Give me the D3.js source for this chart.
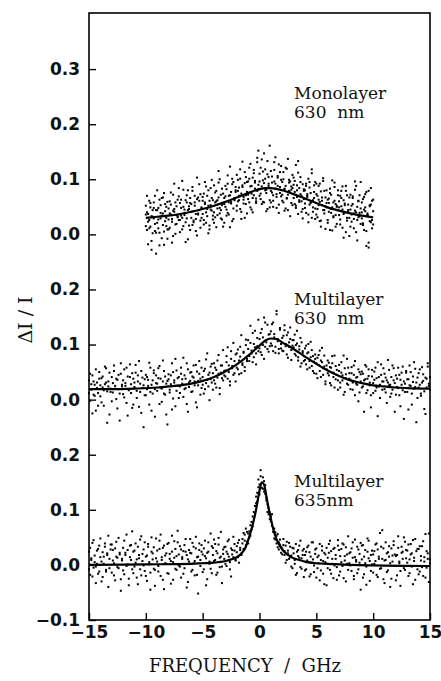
<!DOCTYPE html>
<html>
<head>
<meta charset="utf-8">
<script src="https://cdn.jsdelivr.net/npm/d3@7"></script>
<style>
  body { margin: 0; background: #fff; }
  svg { display: block; }
</style>
</head>
<body>
<svg id="chart" width="441" height="681"></svg>
<script>
// frequency axis, GHz
const xTicks = [-15, -10, -5, 0, 5, 10, 15]

// the three spectra are stacked on one axis, each shifted by an offset
const panelNames = ["Monolayer", "Multilayer", "Multilayer"]
const panelWaves = ["630  nm", "630  nm", "635nm"]
const panelOffsets = [0.6, 0.3, 0]
const yTickPos = [0.9, 0.8, 0.7, 0.6, 0.5, 0.4, 0.3, 0.2, 0.1, 0.0, -0.1]
const yTickLabels = ["0.3", "0.2", "0.1", "0.0", "0.2", "0.1", "0.0", "0.2", "0.1", "0.0", "\u22120.1"]

// measured points, ΔI/I in units of 0.001, evenly spaced over the given range
const monoRange = [-10, 10]
const monoScanA = [52,8,37,61,14,-12,44,29,70,3, 21,48,-20,39,66,17,5,55,30,-8, 47,12,76,28,-3,41,58,19,33,84, 26,63,9,50,35,-14,71,44,16,57,
  30,79,22,52,6,64,38,91,25,47, 68,18,55,87,33,2,61,45,99,27, 40,76,13,62,94,48,29,83,57,21, 88,45,107,36,71,59,24,95,66,80,
  52,99,70,118,41,86,63,30,104,77, 96,58,128,74,40,111,83,65,139,90, 70,121,55,98,147,80,42,109,88,62, 115,76,50,131,92,68,103,39,86,124,
  61,100,83,47,119,72,94,33,81,108, 90,55,126,68,37,84,104,60,29,79, 48,92,70,22,85,57,111,41,66,95, 73,31,88,59,14,67,102,44,51,80,
  26,65,83,39,7,58,94,35,50,71, 60,18,79,45,-6,53,88,30,41,67, 14,52,69,28,96,40,-11,61,33,47, 58,20,45,73,6,38,-24,51,84,26, 42]
const monoScanB = [15,40,-18,26,57,33,2,48,19,-35, 44,11,63,29,-7,38,75,24,50,9, 27,60,36,-15,43,92,18,51,31,69, 4,48,30,81,39,22,58,-9,46,66,
  55,17,42,70,28,103,36,61,12,49, 37,74,58,21,46,80,9,53,66,34, 89,31,60,47,115,38,72,53,14,66, 50,82,39,70,123,56,91,28,64,77,
  108,60,85,46,74,132,68,93,55,38, 72,101,49,88,66,117,94,57,79,152, 96,64,87,114,58,101,75,133,92,49, 79,105,61,96,140,73,88,54,113,69,
  95,58,82,121,66,44,99,76,87,53, 66,97,48,80,112,59,73,41,91,64, 80,39,68,101,54,75,30,62,89,47, 36,70,53,92,25,61,44,79,10,57,
  63,41,8,72,49,31,86,55,19,44, 35,70,51,12,62,40,79,25,54,-3, 45,23,66,38,81,4,50,31,71,19, 29,64,8,42,77,35,-15,53,22,61, 18]
const monoScanC = [36,70,23,11,49,-28,32,58,6,44, 80,27,3,53,34,67,-19,42,15,59, 9,38,54,23,72,46,1,35,63,26, 57,34,97,15,45,62,29,80,51,8,
  41,86,25,58,37,-2,67,44,73,30, 61,26,95,40,70,52,16,84,43,62, 21,58,79,35,67,100,44,27,74,55, 69,34,92,58,13,77,101,47,62,86,
  43,79,62,101,28,89,56,113,71,95, 64,121,87,45,103,71,97,60,131,82, 110,74,136,59,93,118,81,46,104,161, 58,94,71,117,83,48,106,127,75,99,
  72,113,43,88,65,137,79,96,57,84, 103,77,52,89,133,62,95,70,46,82, 56,88,73,36,95,60,118,49,77,28, 92,46,63,24,78,53,97,38,67,49,
  21,57,75,46,98,33,61,14,52,80, 49,27,66,87,37,56,4,71,44,30, 72,36,55,11,43,88,26,60,39,95, 40,17,68,49,-21,35,79,24,54,11, 63]

const multi630Range = [-15, 15]
const multi630ScanA = [35,-2,18,44,9,27,-20,31,12,50, 6,39,22,-11,28,57,15,33,-27,20, 41,13,62,25,1,36,19,-38,47,24, 10,55,30,-6,42,17,64,28,-15,38,
  23,49,3,33,70,14,-24,40,26,8, 45,19,36,-9,58,27,11,48,-31,30, 16,39,61,22,-4,33,52,9,29,-45, 37,18,44,66,2,31,-12,53,25,41,
  12,47,29,76,19,38,-8,55,23,34, 50,15,40,26,63,-14,34,47,9,58, 27,52,19,73,36,45,-1,60,31,48, 66,29,54,40,81,21,49,62,35,44,
  53,79,38,62,26,88,57,45,70,33, 84,55,71,96,48,66,87,59,109,74, 92,70,103,84,121,77,95,64,112,88, 110,86,128,99,74,140,104,92,118,97,
  124,98,140,113,85,155,106,92,130,101, 112,88,126,97,117,76,104,131,90,108, 95,118,80,102,71,97,112,66,88,79, 93,64,84,101,58,77,90,52,69,82,
  47,76,63,89,41,68,57,80,33,62, 71,44,59,26,66,49,80,37,54,18, 52,31,68,44,9,57,39,74,27,48, 36,59,18,45,70,29,41,-3,50,33,
  22,47,35,63,12,38,55,26,-14,42, 30,51,16,39,68,24,3,45,33,57, 19,40,-6,31,54,27,11,62,35,-22, 44,23,58,8,36,49,17,-35,29,52,
  14,37,62,25,-9,42,20,56,31,3, 48,27,11,59,34,-17,40,22,66,29, 18]
const multi630ScanB = [12,47,28,-25,33,7,55,21,-11,38, 26,-5,42,17,60,31,-42,24,49,14, -3,30,52,20,38,-16,45,11,66,27, 35,4,25,58,-29,19,41,12,48,-9,
  31,63,16,44,-13,29,52,21,-50,37, 8,41,25,67,14,-20,35,53,19,44, 29,57,-8,38,20,71,11,42,-27,34, 46,13,28,-18,50,35,74,16,39,3,
  24,58,37,5,44,21,66,-22,31,49, 14,42,62,33,-5,51,26,70,38,21, 41,11,56,30,84,24,49,37,65,18, 35,58,22,71,47,10,62,39,90,52,
  42,68,95,50,33,74,61,103,48,82, 58,91,46,78,117,63,85,52,99,70, 108,79,134,89,68,101,125,84,97,145, 93,121,81,113,149,96,108,136,87,119,
  102,137,88,119,96,161,110,84,127,93, 89,116,135,101,82,122,96,110,72,98, 108,83,99,125,77,91,60,104,85,70, 72,98,55,86,70,105,61,79,48,74,
  66,39,81,52,71,94,45,60,28,55, 48,67,30,58,79,41,22,61,45,35, 63,22,49,35,80,14,46,29,58,38, 19,48,31,62,8,40,27,55,13,46,
  51,24,-22,37,60,17,43,31,8,54, 12,36,58,22,-30,41,27,64,18,33, 47,13,35,72,26,5,41,18,57,30, 9,38,21,45,-12,27,60,33,14,49,
  37,-18,26,50,11,32,68,23,-41,40, 22,55,7,31,46,15,-26,38,60,25, 41]

const multi635Range = [-15, 15]
const multi635ScanA = [24,-18,9,40,-5,17,-33,2,29,-12, 48,6,-22,15,33,-9,21,-40,11,37, -14,27,3,-28,42,13,-6,19,-47,8, 31,-17,22,55,1,-25,14,36,-8,24,
  -3,39,10,-35,18,46,-19,7,28,-11, 15,-29,33,5,-14,50,21,-7,-38,12, 26,-2,44,-20,9,31,-44,17,2,38, -16,20,7,53,-27,13,29,-9,41,-1,
  34,-23,11,25,-6,47,18,-31,6,22, -12,40,3,-19,30,14,-52,27,9,36, 19,-8,44,12,-26,24,2,57,-15,31, 7,38,-18,21,49,-4,15,-33,28,11,
  33,-2,20,46,5,-21,27,14,38,9, 23,40,4,31,18,47,29,55,36,42, 57,49,72,64,88,85,107,124,115,141, 128,161,149,138,152,129,117,96,104,83,
  88,71,60,66,46,53,32,41,37,22, 30,47,18,35,9,26,40,14,-3,31, 21,2,38,-15,27,13,44,-7,18,29, -10,24,8,35,-21,15,4,41,-13,20,
  30,-6,17,-28,9,34,-16,22,5,-37, 13,38,-9,25,2,-24,31,11,-4,45, -19,16,29,-2,37,8,-30,19,52,3, 23,-11,41,-26,14,6,33,-8,20,-45,
  10,36,-17,27,-3,48,12,-29,18,1, -14,25,7,39,-22,15,58,-6,11,30, -33,9,21,-10,34,3,-25,17,43,-2, 16,-19,31,6,-38,22,11,50,-9,27,
  4,37,-15,19,-3,45,13,-27,25,-8, 29,-12,8,34,-20,14,56,-5,21,-31, 10]
const multi635ScanB = [-8,31,12,-21,45,5,-3,26,-16,35, 14,-30,23,2,39,-12,18,53,-6,28, 37,8,-19,30,15,-4,49,22,-26,11, -10,44,18,-2,27,-37,35,9,61,-15,
  26,4,-23,33,12,-8,52,20,-1,41, -20,17,38,1,-45,24,10,32,-9,48, 6,-12,29,55,14,-27,35,3,21,-15, 40,11,-34,24,5,43,-7,16,62,19,
  -3,28,14,-16,36,24,-41,10,27,47, 21,-9,33,7,51,-18,15,39,-2,24, -13,30,16,-37,22,41,6,-7,34,18, 46,9,25,-14,37,13,60,-3,20,32,
  2,24,43,15,-8,30,19,51,26,8, 34,14,45,27,20,39,58,44,66,60, 39,61,53,78,70,96,92,112,131,155, 146,172,140,159,133,145,122,110,92,95,
  79,92,67,48,59,39,56,28,46,33, 19,36,25,4,42,21,11,33,17,-6, 30,9,-18,24,16,35,-4,12,26,-22, 18,-8,32,5,23,-17,41,10,-1,28,
  -23,14,3,38,-10,26,7,-35,19,31, -6,22,44,-16,11,29,-1,18,-27,35, 27,-12,5,39,-24,16,32,2,-9,21, -1,30,13,-20,46,9,-15,28,4,40,
  35,-23,15,3,-36,24,44,7,-11,26, 19,2,37,-18,28,11,-7,33,63,-26, 8,41,-13,23,15,-40,30,6,36,19, -28,18,52,3,-11,33,24,-6,42,12,
  26,-20,10,38,21,-35,7,47,-2,29, -17,34,16,-4,43,6,-23,25,11,57, 3]

const monoFitFreq = [-10, -9, -8, -7, -6, -5, -4, -3, -2, -1, 0, 0.5, 1, 2, 3, 4, 5, 6, 7, 8, 9, 10]
const monoFitVal = [30, 32, 34, 37, 41, 46, 52, 59, 67, 75, 82, 84, 84, 80, 73, 65, 57, 49, 43, 38, 34, 31]
const multi630FitFreq = [-15, -13, -11, -9, -8, -7, -6, -5, -4, -3, -2, -1, 0, 0.5, 1, 1.5, 2, 3, 4, 5, 6, 7, 8, 9, 10, 11, 12, 13, 15]
const multi630FitVal = [19, 19, 20, 22, 24, 26, 29, 34, 41, 51, 64, 80, 98, 107, 111, 110, 104, 92, 78, 65, 53, 43, 35, 30, 26, 24, 22, 21, 20]
const multi635FitFreq = [-15, -10, -6, -5, -4, -3, -2.5, -2, -1.5, -1.2, -1, -0.8, -0.6, -0.4, -0.2, 0, 0.2, 0.4, 0.6, 0.8, 1, 1.2, 1.4, 1.6, 1.8, 2, 2.5, 3, 3.5, 4, 5, 6, 8, 10, 15]
const multi635FitVal = [0, 1, 2, 3, 4, 7, 10, 14, 23, 33, 45, 58, 73, 90, 112, 135, 150, 146, 125, 103, 84, 66, 52, 42, 34, 28, 18, 12, 9, 6, 3, 2, 0, -1, -2]

const panels = [
  {range: monoRange, scans: [monoScanA, monoScanB, monoScanC], fitF: monoFitFreq, fitV: monoFitVal},
  {range: multi630Range, scans: [multi630ScanA, multi630ScanB], fitF: multi630FitFreq, fitV: multi630FitVal},
  {range: multi635Range, scans: [multi635ScanA, multi635ScanB], fitF: multi635FitFreq, fitV: multi635FitVal}
]
const labelY = [[99, 118], [305, 324], [487, 506]]

const plotLeft = 89, plotRight = 430, plotTop = 13, plotBottom = 620
const svg = d3.select("#chart")

const x = d3.scaleLinear().domain([-15, 15]).range([plotLeft, plotRight])
const y = d3.scaleLinear().domain([-0.1, 1.0]).range([plotBottom, 14])

panels.forEach(function(p, k) {
  const off = panelOffsets[k]
  const g = svg.append("g")
  p.scans.forEach(function(scan) {
    const step = (p.range[1] - p.range[0]) / (scan.length - 1)
    g.selectAll(null)
      .data(scan)
      .enter()
      .append("rect")
        .attr("x", function(d, i) { return x(p.range[0] + i * step) - 1 })
        .attr("y", function(d) { return y(off + d / 1000) - 1 })
        .attr("width", 2)
        .attr("height", 2)
        .attr("fill", "#000")
  })
  const line = d3.line()
    .x(function(d) { return x(d[0]) })
    .y(function(d) { return y(off + d[1] / 1000) })
    .curve(d3.curveMonotoneX)
  g.append("path")
    .datum(p.fitF.map(function(f, i) { return [f, p.fitV[i]] }))
    .attr("d", line)
    .attr("fill", "none")
    .attr("stroke", "#000")
    .attr("stroke-width", 2.2)

  // two separate lines of label text
  ;[panelNames[k], panelWaves[k]].forEach(function(s, j) {
    svg.append("text")
      .attr("x", 294)
      .attr("y", labelY[k][j])
      .attr("font-family", "DejaVu Serif")
      .attr("font-size", 17)
      .attr("fill", "#111")
      .style("white-space", "pre")
      .text(s)
  })
})

// axes, ticks pointing inside
const yAxis = d3.axisLeft(y)
  .tickValues(yTickPos)
  .tickFormat(function(d, i) { return yTickLabels[i] })
  .tickSizeInner(-7)
  .tickSizeOuter(0)
  .tickPadding(9)
const xAxis = d3.axisBottom(x)
  .tickValues(xTicks)
  .tickFormat(function(d) { return d < 0 ? "\u2212" + Math.abs(d) : d })
  .tickSizeInner(-7)
  .tickSizeOuter(0)
  .tickPadding(6)

const gy = svg.append("g").attr("transform", "translate(" + plotLeft + ",0)").call(yAxis)
const gx = svg.append("g").attr("transform", "translate(0," + plotBottom + ")").call(xAxis)
;[gy, gx].forEach(function(g) {
  g.select(".domain").remove()
  g.selectAll(".tick line").attr("stroke", "#000").attr("stroke-width", 1.4)
  g.selectAll(".tick text")
    .attr("font-family", "DejaVu Sans")
    .attr("font-weight", "bold")
    .attr("font-size", 17)
    .attr("fill", "#111")
})

svg.append("rect")
  .attr("x", plotLeft).attr("y", plotTop)
  .attr("width", plotRight - plotLeft).attr("height", plotBottom - plotTop)
  .attr("fill", "none")
  .attr("stroke", "#000")
  .attr("stroke-width", 1.6)

svg.append("text")
  .attr("x", 245).attr("y", 672)
  .attr("text-anchor", "middle")
  .attr("font-family", "DejaVu Serif")
  .attr("font-size", 18)
  .attr("fill", "#111")
  .style("white-space", "pre")
  .text("FREQUENCY  /  GHz")

svg.append("text")
  .attr("transform", "translate(32,320) rotate(-90)")
  .attr("text-anchor", "middle")
  .attr("font-family", "DejaVu Serif")
  .attr("font-size", 19)
  .attr("fill", "#111")
  .style("white-space", "pre")
  .text("\u0394I / I")
</script>
</body>
</html>
